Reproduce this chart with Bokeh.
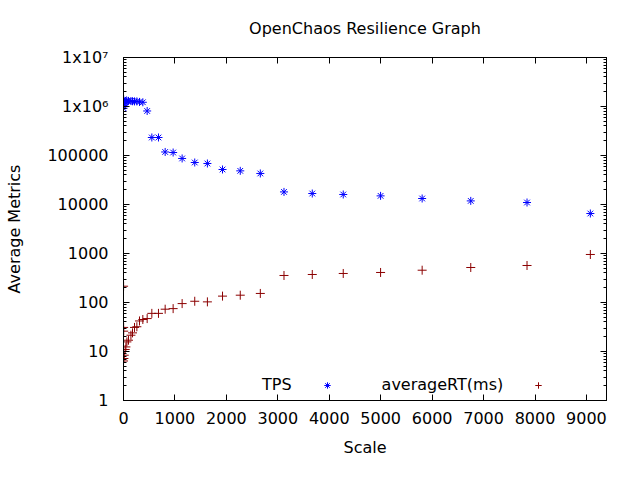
from bokeh.plotting import figure
from bokeh.models import (FixedTicker, LinearAxis, LogAxis, Range1d, Legend,
                          LegendItem, CustomJSTickFormatter)
from bokeh.embed import file_html
from bokeh.resources import INLINE

# ---- data ----
scale = [1, 2, 3, 4, 8, 14, 33, 47, 66, 97, 144, 175, 214, 260, 311, 376,
         460, 551, 680, 810, 965, 1140, 1385, 1631, 1925, 2270, 2660,
         3120, 3670, 4272, 4998, 5806, 6751, 7845, 9076]
tps = [920000, 1050000, 1400000, 1150000, 1300000, 1250000, 1220000, 1280000,
       1300000, 1300000, 1290000, 1280000, 1270000, 1270000, 1240000, 1220000,
       810000, 233000, 233000, 118000, 115000, 87000, 72000, 68700, 51800,
       48600, 43000, 18070, 16750, 16000, 15000, 13250, 11840, 10980, 6550]
avg_rt = [6.4, 215, 31, 26, 7.2, 8.4, 11, 12.4, 15.7, 17, 21.5, 24, 31, 32,
          42, 45, 47, 60, 60, 73, 75, 95, 106, 103, 135, 141, 153,
          356, 373, 391, 410, 456, 518, 569, 955]

x_ticks = [0, 1000, 2000, 3000, 4000, 5000, 6000, 7000, 8000, 9000]
y_ticks = [1, 10, 100, 1000, 10000, 100000, 1000000, 10000000]
y_tick_labels = ["1", "10", "100", "1000", "10000", "100000", "1x10\u2076", "1x10\u2077"]
y_minor = [m * 10 ** k for k in range(0, 7) for m in range(2, 10)]
series_names = ["TPS", "averageRT(ms)"]

FONT = "DejaVu Sans"

p = figure(width=640, height=480, y_axis_type="log",
           x_range=Range1d(0, 9390), y_range=Range1d(1, 1e7),
           output_backend="svg", toolbar_location=None,
           min_border_left=123, min_border_right=34,
           min_border_top=57, min_border_bottom=80,
           title="OpenChaos Resilience Graph")

p.title.align = "center"
p.title.vertical_align = "top"
p.title.text_font = FONT
p.title.text_font_size = "16px"
p.title.text_font_style = "normal"
p.title.text_color = "black"
p.title.standoff = 36

p.grid.visible = False
p.outline_line_color = "black"
p.outline_line_alpha = 1.0
p.background_fill_color = "white"
p.border_fill_color = "white"

def style_axis(ax):
    ax.axis_line_color = "black"
    ax.major_tick_line_color = "black"
    ax.minor_tick_line_color = "black"
    ax.major_tick_in = 6
    ax.major_tick_out = 0
    ax.minor_tick_in = 3
    ax.minor_tick_out = 0
    ax.major_label_text_font = FONT
    ax.major_label_text_font_size = "16px"
    ax.major_label_text_color = "black"
    ax.axis_label_text_font = FONT
    ax.axis_label_text_font_size = "16px"
    ax.axis_label_text_font_style = "normal"
    ax.axis_label_text_color = "black"

xa = p.xaxis[0]
style_axis(xa)
xa.ticker = FixedTicker(ticks=x_ticks)
xa.axis_label = "Scale"
xa.major_label_standoff = 11
xa.axis_label_standoff = 11

ya = p.yaxis[0]
style_axis(ya)
ya.ticker = FixedTicker(ticks=y_ticks, minor_ticks=y_minor)
ya.major_label_overrides = {t: s for t, s in zip(y_ticks, y_tick_labels)}
ya.axis_label = "Average Metrics"
ya.major_label_standoff = 15
ya.axis_label_standoff = 20

blank = CustomJSTickFormatter(code="return ''")
right = LogAxis(ticker=FixedTicker(ticks=y_ticks, minor_ticks=y_minor), formatter=blank,
                major_label_standoff=0)
style_axis(right)
p.add_layout(right, "right")
top = LinearAxis(ticker=FixedTicker(ticks=x_ticks), formatter=blank, major_label_standoff=0)
style_axis(top)
p.add_layout(top, "above")

r_tps = p.scatter(scale, tps, marker="asterisk", size=8,
                  line_color="#0000ff", line_width=1)
r_rt = p.scatter(scale, avg_rt, marker="cross", size=9,
                 line_color="#8b0000", line_width=1)
# empty, invisible renderer used for the text-only key entries
r_none = p.scatter([], [], marker="dot", size=0, line_alpha=0, fill_alpha=0)

# gnuplot-style key (text first, then the sample), in the empty lower band of the plot
key = Legend(items=[LegendItem(label=series_names[0], renderers=[r_none]),
                    LegendItem(label="", renderers=[r_tps]),
                    LegendItem(label=series_names[1], renderers=[r_none]),
                    LegendItem(label="", renderers=[r_rt])],
             location=(121, 6), orientation="horizontal",
             glyph_width=16, glyph_height=18, label_height=18, label_width=0,
             label_standoff=2, spacing=27, padding=0, margin=0,
             border_line_color=None, background_fill_alpha=0,
             label_text_font=FONT, label_text_font_size="16px",
             label_text_color="black")
p.add_layout(key)

open("out.html", "w").write(file_html(p, INLINE))
